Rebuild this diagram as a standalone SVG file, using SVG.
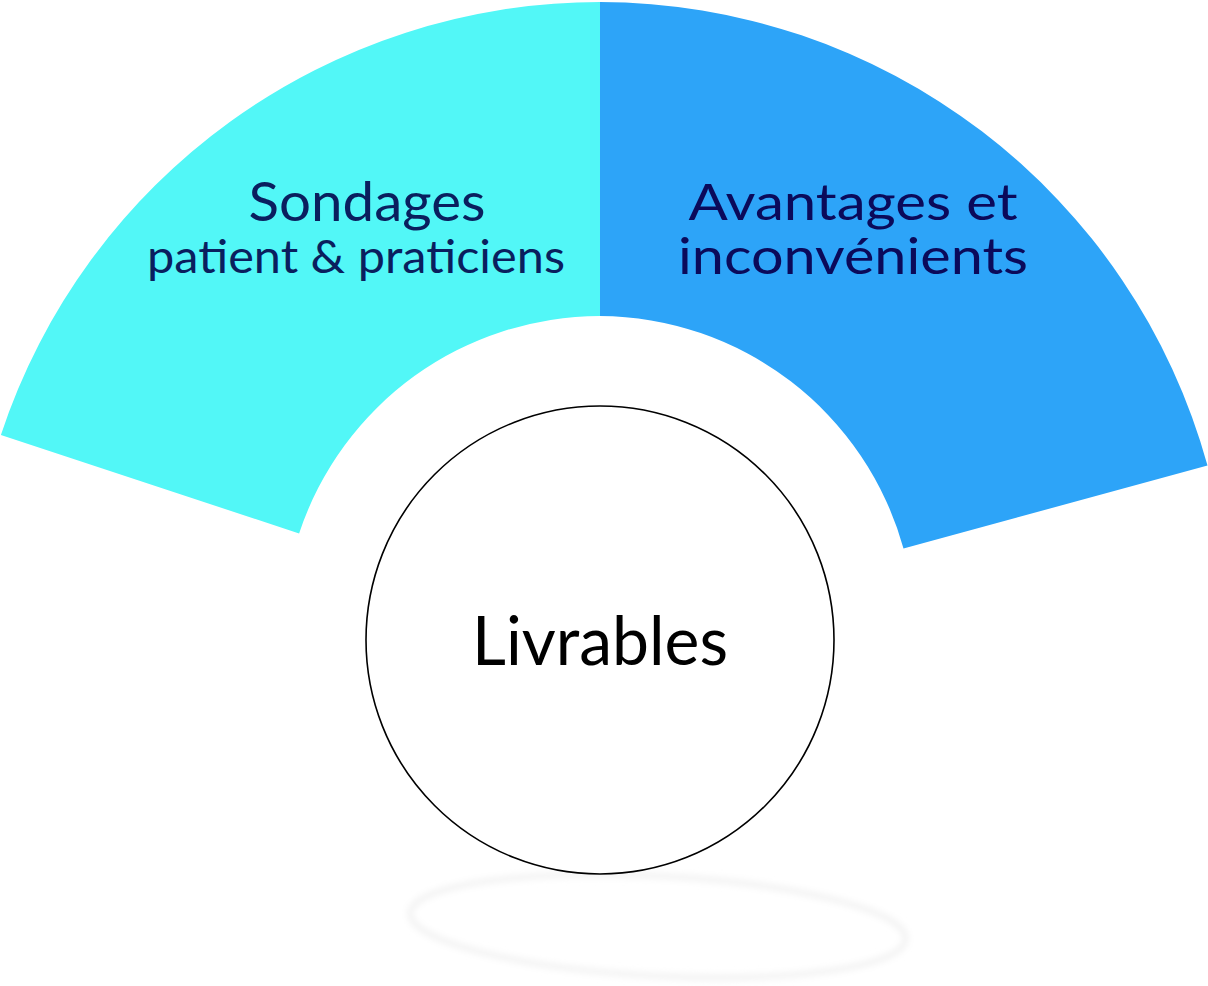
<svg xmlns="http://www.w3.org/2000/svg" width="1208" height="986" viewBox="0 0 1208 986">
  <style>
    .lbl { font-family: Lato, "Open Sans", "Liberation Sans", sans-serif; text-anchor: middle; }
    .navy { fill: #0a1f5e; }
    .navy2 { fill: #0b0a5a; }
  </style>
  <defs>
    <filter id="blur" x="-10%" y="-50%" width="120%" height="200%">
      <feGaussianBlur stdDeviation="3"/>
    </filter>
  </defs>
  <rect width="1208" height="986" fill="#ffffff"/>
  <g id="shadow">
    <ellipse cx="658" cy="926" rx="248" ry="50" transform="rotate(3 658 926)" fill="none" stroke="#f3f3f3" stroke-width="6" filter="url(#blur)"/>
  </g>
  <g id="sondages">
    <path d="M 0.9,434.9 A 631 631 0 0 1 600,2 L 600,316 A 317 317 0 0 0 299.1,533.5 Z" fill="#52f7f7"/>
    <text class="lbl navy" x="367" y="221" font-size="54" textLength="237" lengthAdjust="spacingAndGlyphs">Sondages</text>
    <text class="lbl navy" x="356" y="273" font-size="46" textLength="418" lengthAdjust="spacingAndGlyphs">patient &amp; praticiens</text>
  </g>
  <g id="avantages">
    <path d="M 600,2 A 631 631 0 0 1 1207.5,465.5 L 903.5,548.5 A 317 317 0 0 0 600,316 Z" fill="#2da4f8"/>
    <text class="lbl navy2" x="853" y="220" font-size="51" textLength="329" lengthAdjust="spacingAndGlyphs">Avantages et</text>
    <text class="lbl navy2" x="853" y="274" font-size="51" textLength="350" lengthAdjust="spacingAndGlyphs">inconvénients</text>
  </g>
  <g id="livrables">
    <circle cx="600" cy="640" r="234" fill="#ffffff" stroke="#000000" stroke-width="1.6"/>
    <text class="lbl" x="600" y="665" font-size="68" fill="#000000" textLength="256" lengthAdjust="spacingAndGlyphs">Livrables</text>
  </g>
  <g id="connectors"/>
</svg>
